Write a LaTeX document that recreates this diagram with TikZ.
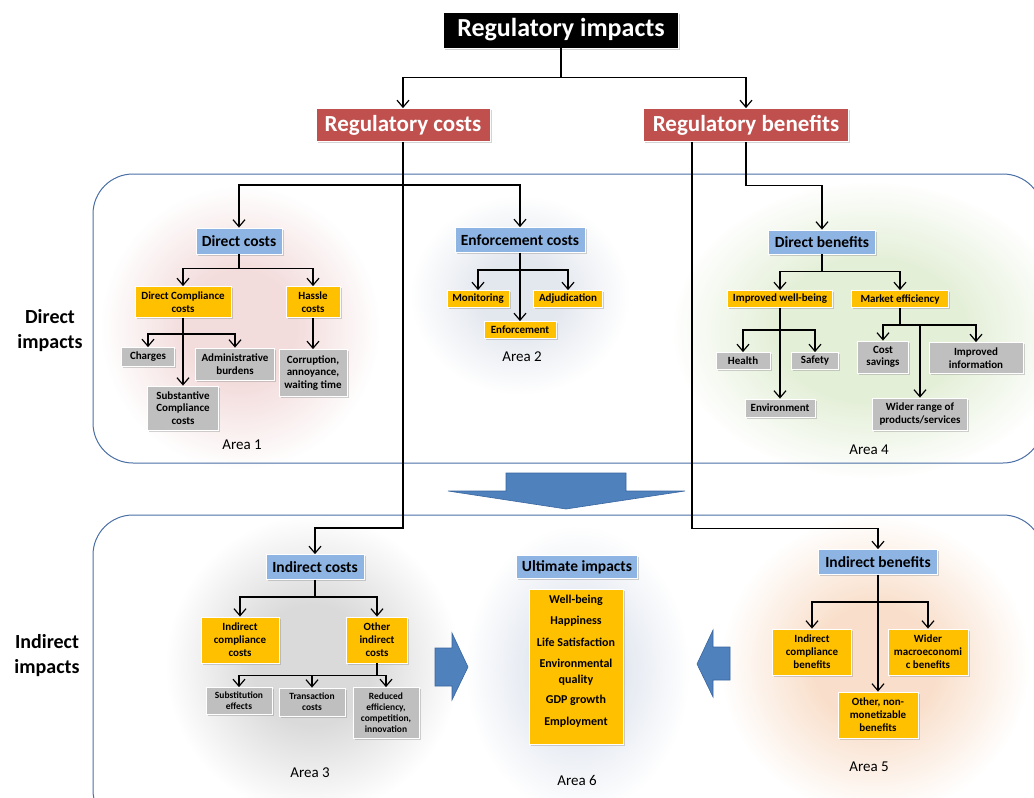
\documentclass[tikz,border=0pt]{standalone}
\usepackage{fontspec}
\setmainfont{Carlito}
\usetikzlibrary{arrows.meta,shadows}

\definecolor{regred}{HTML}{C0504D}
\definecolor{hdblue}{HTML}{8EB4E3}
\definecolor{ambr}{HTML}{FFC000}
\definecolor{greybox}{HTML}{BFBFBF}
\definecolor{panelline}{HTML}{4A6FA5}
\definecolor{bigarrow}{HTML}{4F81BD}
\definecolor{bigarrowline}{HTML}{3A66A0}
\definecolor{glowpink}{HTML}{F3DCDC}
\definecolor{glowblue}{HTML}{E3E7EE}
\definecolor{glowgreen}{HTML}{E4EFD8}
\definecolor{glowgray}{HTML}{DADADA}
\definecolor{glowsky}{HTML}{E1E6EF}
\definecolor{glowpeach}{HTML}{F9DFCB}

\pgfdeclareradialshading{pinkglow}{\pgfpoint{0bp}{0bp}}{color(0bp)=(glowpink); color(10bp)=(glowpink); color(25bp)=(white); color(50bp)=(white)}
\pgfdeclareradialshading{blueglow}{\pgfpoint{0bp}{0bp}}{color(0bp)=(glowblue); color(9bp)=(glowblue); color(25bp)=(white); color(50bp)=(white)}
\pgfdeclareradialshading{greenglow}{\pgfpoint{0bp}{0bp}}{color(0bp)=(glowgreen); color(12bp)=(glowgreen); color(25bp)=(white); color(50bp)=(white)}
\pgfdeclareradialshading{grayglow}{\pgfpoint{0bp}{0bp}}{color(0bp)=(glowgray); color(10bp)=(glowgray); color(25bp)=(white); color(50bp)=(white)}
\pgfdeclareradialshading{skyglow}{\pgfpoint{0bp}{0bp}}{color(0bp)=(glowsky); color(9bp)=(glowsky); color(25bp)=(white); color(50bp)=(white)}
\pgfdeclareradialshading{peachglow}{\pgfpoint{0bp}{0bp}}{color(0bp)=(glowpeach); color(10bp)=(glowpeach); color(25bp)=(white); color(50bp)=(white)}

\begin{document}
\begin{tikzpicture}[x=1pt,y=-1pt]
		\begin{scope}
		
		\tikzstyle{box}=[draw=white, line width=0.8pt, inner sep=1pt, align=center,
		drop shadow={opacity=0.35, shadow xshift=1.5pt, shadow yshift=-1.5pt}]
		\tikzstyle{topbox}=[box, fill=black, text=white, font=\fontsize{26}{30}\selectfont\bfseries]
		\tikzstyle{redbox}=[box, fill=regred, text=white, font=\fontsize{23}{27}\selectfont\bfseries]
		\tikzstyle{hdbox}=[box, fill=hdblue, font=\fontsize{15.5}{18}\selectfont\bfseries]
		\tikzstyle{ylbox}=[box, fill=ambr, font=\fontsize{11}{13}\selectfont\bfseries]
		\tikzstyle{grbox}=[box, fill=greybox, font=\fontsize{11}{12.5}\selectfont\bfseries]
		\tikzstyle{smgrbox}=[box, fill=greybox, font=\fontsize{9.5}{11}\selectfont\bfseries]
		\tikzstyle{arealabel}=[font=\fontsize{15}{18}\selectfont]
		\tikzstyle{sidelabel}=[align=center, font=\fontsize{20}{25}\selectfont\bfseries]
		\tikzstyle{panel}=[draw=panelline, line width=1pt, rounded corners=40pt]
		\tikzstyle{arr}=[-{Straight Barb[length=7pt,width=12pt]}, line width=1.2pt]
		\tikzstyle{bluearrow}=[fill=bigarrow, draw=bigarrowline, line width=0.6pt]
		
		\useasboundingbox (0,0) rectangle (1034,798);
		\clip (0,0) rectangle (1034,798);
		
		% soft backgrounds of the areas
		\shade[shading=pinkglow] (100,185) rectangle (380,470);
		\shade[shading=blueglow] (410,195) rectangle (630,395);
		\shade[shading=greenglow] (670,180) rectangle (1070,480);
		\shade[shading=grayglow] (165,515) rectangle (460,815);
		\shade[shading=skyglow] (465,525) rectangle (690,815);
		\shade[shading=peachglow] (720,515) rectangle (1030,815);
		
		\draw[panel] (93,174) rectangle (1043,463);
		\draw[panel] (93,515) rectangle (1043,830);
		
		\coordinate (pri) at (561,30);
		\coordinate (prc) at (403,125);
		\coordinate (prb) at (746,125);
		
		\coordinate (pdc) at (239,241);
		\coordinate (pdcc) at (183,302);
		\coordinate (phc) at (313,302);
		\coordinate (pchg) at (148,357);
		\coordinate (padm) at (235,364);
		\coordinate (psub) at (183,408);
		\coordinate (pcor) at (313,373);
		
		\coordinate (pec) at (520,240);
		\coordinate (pmon) at (478,299);
		\coordinate (padj) at (568,299);
		\coordinate (penf) at (520,330);
		
		\coordinate (pdb) at (822,242);
		\coordinate (piwb) at (780,299);
		\coordinate (pme) at (900,299);
		\coordinate (phea) at (743,361);
		\coordinate (psaf) at (815,361);
		\coordinate (penv) at (780,408);
		\coordinate (pcs) at (883,357);
		\coordinate (pii) at (976,358);
		\coordinate (pwr) at (920,414);
		
		\coordinate (pic) at (315,567);
		\coordinate (picc) at (240,640);
		\coordinate (poic) at (377,640);
		\coordinate (psube) at (239,701);
		\coordinate (ptrc) at (312,702);
		\coordinate (pred) at (386,713);
		
		\coordinate (pui) at (577,567);
		\coordinate (puil) at (576,667);
		
		\coordinate (pib) at (878,562);
		\coordinate (picb) at (812,652);
		\coordinate (pwmb) at (928,652);
		\coordinate (ponb) at (878,715);
		
		\node[topbox, minimum width=235, minimum height=36] (ri) at (pri) {Regulatory impacts};
		\node[redbox, minimum width=174, minimum height=33] (rc) at (prc) {Regulatory costs};
		\node[redbox, minimum width=205, minimum height=33] (rb) at (prb) {Regulatory benefits};
		
		\node[hdbox, minimum width=86, minimum height=26] (dc) at (pdc) {Direct costs};
		\node[ylbox, minimum width=96, minimum height=31] (dcc) at (pdcc) {Direct Compliance\\costs};
		\node[ylbox, minimum width=54, minimum height=31] (hc) at (phc) {Hassle\\costs};
		\node[grbox, minimum width=53, minimum height=19] (chg) at (pchg) {Charges};
		\node[grbox, minimum width=79, minimum height=32] (adm) at (padm) {Administrative\\burdens};
		\node[grbox, minimum width=71, minimum height=44] (sub) at (psub) {Substantive\\Compliance\\costs};
		\node[grbox, minimum width=68, minimum height=47] (cor) at (pcor) {Corruption,\\annoyance,\\waiting time};
		
		\node[hdbox, minimum width=130, minimum height=25] (ec) at (pec) {Enforcement costs};
		\node[ylbox, minimum width=62, minimum height=17] (mon) at (pmon) {Monitoring};
		\node[ylbox, minimum width=69, minimum height=17] (adj) at (padj) {Adjudication};
		\node[ylbox, minimum width=72, minimum height=17] (enf) at (penf) {Enforcement};
		
		\node[hdbox, minimum width=107, minimum height=24] (db) at (pdb) {Direct benefits};
		\node[ylbox, minimum width=105, minimum height=17] (iwb) at (piwb) {Improved well-being};
		\node[ylbox, minimum width=97, minimum height=17] (me) at (pme) {Market efficiency};
		\node[grbox, minimum width=54, minimum height=17] (hea) at (phea) {Health};
		\node[grbox, minimum width=47, minimum height=17] (saf) at (psaf) {Safety};
		\node[grbox, minimum width=70, minimum height=18] (env) at (penv) {Environment};
		\node[grbox, minimum width=51, minimum height=32] (cs) at (pcs) {Cost\\savings};
		\node[grbox, minimum width=94, minimum height=31] (ii) at (pii) {Improved\\information};
		\node[grbox, minimum width=95, minimum height=32] (wr) at (pwr) {Wider range of\\products/services};
		
		\node[hdbox, minimum width=98, minimum height=25] (ic) at (pic) {Indirect costs};
		\node[ylbox, minimum width=78, minimum height=46] (icc) at (picc) {Indirect\\compliance\\costs};
		\node[ylbox, minimum width=61, minimum height=46] (oic) at (poic) {Other\\indirect\\costs};
		\node[smgrbox, minimum width=66, minimum height=27] (sube) at (psube) {Substitution\\effects};
		\node[smgrbox, minimum width=66, minimum height=28] (trc) at (ptrc) {Transaction\\costs};
		\node[smgrbox, minimum width=66, minimum height=51] (red) at (pred) {Reduced\\efficiency,\\competition,\\innovation};
		
		\node[hdbox, minimum width=121, minimum height=23] (ui) at (pui) {Ultimate impacts};
		\node[box, fill=ambr, minimum width=94, minimum height=155, text depth=12.5pt, font=\fontsize{12}{16}\selectfont\bfseries] (uil) at (puil)
		{Well-being\\[5pt] Happiness\\[6pt] Life Satisfaction\\[5pt] Environmental\\ quality\\[4pt] GDP growth\\[6pt] Employment};
		
		\node[hdbox, minimum width=119, minimum height=25] (ib) at (pib) {Indirect benefits};
		\node[ylbox, minimum width=79, minimum height=46] (icb) at (picb) {Indirect\\compliance\\benefits};
		\node[ylbox, minimum width=80, minimum height=46] (wmb) at (pwmb) {Wider\\macroeconomi\\c benefits};
		\node[ylbox, minimum width=80, minimum height=46] (onb) at (ponb) {Other, non-\\monetizable\\benefits};
		
		\node[arealabel] (a1) at (242,445) {Area 1};
		\node[arealabel] (a2) at (522,357) {Area 2};
		\node[arealabel] (a4) at (869,450) {Area 4};
		\node[arealabel] (a3) at (310,773) {Area 3};
		\node[arealabel] (a6) at (577,780) {Area 6};
		\node[arealabel] (a5) at (869,767) {Area 5};
		
		\node[sidelabel] (dir) at (50,331) {Direct\\impacts};
		\node[sidelabel] (ind) at (47,656) {Indirect\\impacts};
		
		% top level
		\draw[arr] (ri.south) -- ++(0,29) -| (rc);
		\draw[arr] (ri.south) -- ++(0,29) -| (rb);
		
		\draw[arr] (rc.south) -- ++(0,386) -| (ic);
		\path (rc.south) ++(0,43) coordinate (cbus);
		\draw[arr] (cbus) -| (dc);
		\draw[arr] (cbus) -| (ec);
		
		\draw[arr] ([xshift=-54pt]rb.south) -- ++(0,386.5) -| (ib);
		\draw[arr] (rb.south) -- ++(0,43.5) -| (db);
		
		% area 1
		\draw[arr] (dc.south) -- ++(0,14) -| (dcc);
		\draw[arr] (dc.south) -- ++(0,14) -| (hc);
		\draw[arr] (dcc.south) -- ++(0,16) -| (chg);
		\draw[arr] (dcc.south) -- ++(0,16) -| (adm);
		\draw[arr] (dcc) -- (sub);
		\draw[arr] (hc) -- (cor);
		
		% area 2
		\draw[arr] (ec.south) -- ++(0,17) -| (mon);
		\draw[arr] (ec.south) -- ++(0,17) -| (adj);
		\draw[arr] (ec) -- (enf);
		
		% area 4
		\draw[arr] (db.south) -- ++(0,17) -| (iwb);
		\draw[arr] (db.south) -- ++(0,17) -| (me);
		\draw[arr] (iwb.south) -- ++(0,22) -| (hea);
		\draw[arr] (iwb.south) -- ++(0,22) -| (saf);
		\draw[arr] (iwb) -- (env);
		\draw[arr] (me.south) -- ++(0,17) coordinate (mbus) -| (cs);
		\draw[arr] (mbus) -| (ii);
		\draw[arr] (mbus -| wr.north) -- (wr);
		
		% area 3
		\draw[arr] (ic.south) -- ++(0,17) -| (icc);
		\draw[arr] (ic.south) -- ++(0,17) -| (oic);
		\draw[arr] (oic.south) -- ++(0,12) coordinate (obus) -| (sube);
		\draw[arr] (obus) -| (trc);
		\draw[arr] (obus) -| (red);
		
		% area 5
		\draw[arr] (ib.south) -- ++(0,27) -| (icb);
		\draw[arr] (ib.south) -- ++(0,27) -| (wmb);
		\draw[arr] (ib) -- (onb);
		
		% block arrows
		\filldraw[bluearrow] (506,473) -- (626,473) -- (626,491) -- (685,491) -- (566,509) -- (448,491) -- (506,491) -- cycle;
		\filldraw[bluearrow] (435,648) -- (452,648) -- (452,633) -- (468,667) -- (452,700) -- (452,686) -- (435,686) -- cycle;
		\filldraw[bluearrow] (730,647) -- (713,647) -- (713,630) -- (697,664) -- (713,697) -- (713,680) -- (730,680) -- cycle;
		
		\end{scope}
		\end{tikzpicture}
\end{document}
